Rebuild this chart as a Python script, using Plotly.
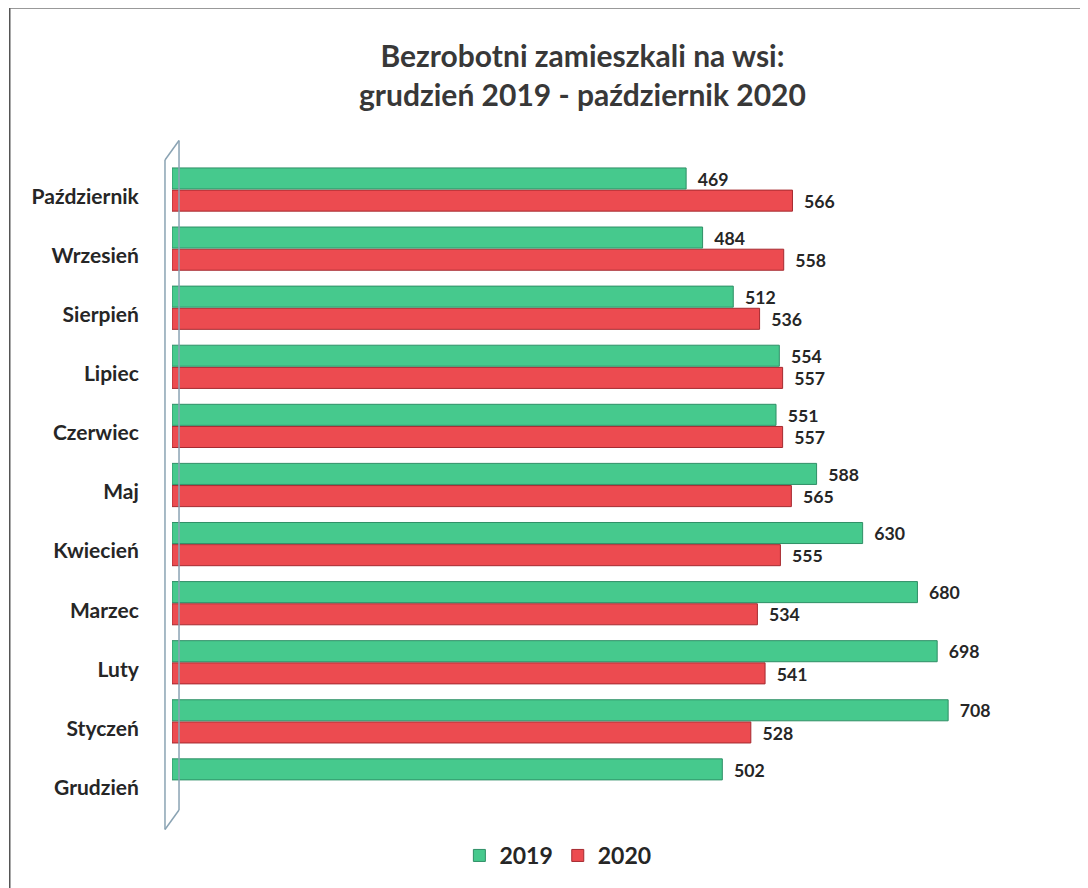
import plotly.graph_objects as go

months = ["Grudzień", "Styczeń", "Luty", "Marzec", "Kwiecień", "Maj",
          "Czerwiec", "Lipiec", "Sierpień", "Wrzesień", "Październik"]
v2019 = [502, 708, 698, 680, 630, 588, 551, 554, 512, 484, 469]
v2020 = [None, 528, 541, 534, 555, 565, 557, 557, 536, 558, 566]

FONT = "Lato, 'Open Sans', sans-serif"
TXT = "#262626"

fig = go.Figure()
# 2020 first so that in horizontal grouping the 2019 bar sits on top
fig.add_trace(go.Bar(
    name="2020", y=months, x=v2020, orientation="h",
    marker=dict(color="#ec4b50", line=dict(color="#a52a30", width=1)),
    texttemplate="  %{x}", textposition="outside", cliponaxis=False,
    textfont=dict(family=FONT, size=21, color=TXT, weight="bold"),
))
fig.add_trace(go.Bar(
    name="2019", y=months, x=v2019, orientation="h",
    marker=dict(color="#46c98d", line=dict(color="#2f8f66", width=1)),
    texttemplate="  %{x}", textposition="outside", cliponaxis=False,
    textfont=dict(family=FONT, size=21, color=TXT, weight="bold"),
))

fig.update_layout(
    width=1088, height=888,
    paper_bgcolor="white", plot_bgcolor="white",
    barmode="group", bargap=0.25, bargroupgap=0.05,
    margin=dict(l=164, r=47, t=152, b=86),
    title=dict(
        text="<b>Bezrobotni zamieszkali na wsi:<br>grudzień 2019 - październik 2020</b>",
        x=0.528, xanchor="center", y=0.934, yanchor="middle",
        font=dict(family=FONT, size=30, color="#383838"),
    ),
    xaxis=dict(range=[0, 800], showgrid=False, showticklabels=False,
               zeroline=False, showline=False, ticks="", automargin=False),
    yaxis=dict(showgrid=False, zeroline=False, showline=False, automargin=False,
               ticks="outside", ticklen=28, tickcolor="rgba(0,0,0,0)",
               ticklabelshift=7,
               tickfont=dict(family=FONT, size=21, color=TXT, weight="bold")),
    legend=dict(orientation="h", x=0.44, xanchor="center", y=-0.07, yanchor="middle",
                font=dict(family=FONT, size=23, color=TXT, weight="bold"),
                traceorder="reversed"),
    showlegend=True,
    shapes=[
        # left 3D wall outline
        dict(type="line", xref="paper", yref="paper", x0=-0.008, x1=-0.008, y0=-0.03, y1=1.0,
             line=dict(color="#8aa3b3", width=1.5)),
        dict(type="line", xref="paper", yref="paper", x0=0.008, x1=0.008, y0=0.0, y1=1.03,
             line=dict(color="#8aa3b3", width=1.5)),
        dict(type="line", xref="paper", yref="paper", x0=-0.008, x1=0.008, y0=1.0, y1=1.03,
             line=dict(color="#8aa3b3", width=1.5)),
        dict(type="line", xref="paper", yref="paper", x0=-0.008, x1=0.008, y0=-0.03, y1=0.0,
             line=dict(color="#8aa3b3", width=1.5)),
        # page frame
        dict(type="line", xref="paper", yref="paper", x0=-0.185, x1=-0.185, y0=-0.2, y1=1.234,
             line=dict(color="#555555", width=1.5)),
        dict(type="line", xref="paper", yref="paper", x0=-0.185, x1=1.05, y0=1.234, y1=1.234,
             line=dict(color="#777777", width=1.5)),
    ],
)

fig.write_html("out.html")
